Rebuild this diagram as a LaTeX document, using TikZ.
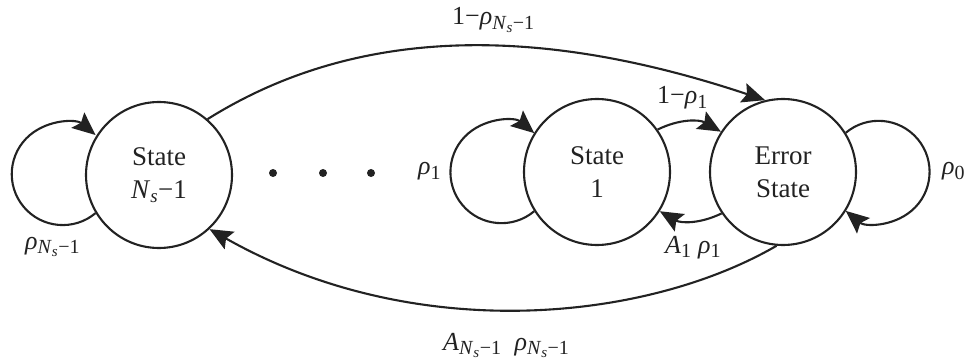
\documentclass[tikz,border=0pt]{standalone}
\usepackage{fontspec}
\setmainfont{Liberation Serif}
\DeclareMathSizes{26}{26}{20}{15}
\DeclareMathSizes{20}{20}{15}{12}
\usetikzlibrary{arrows.meta}
\definecolor{ink}{HTML}{222222}
\newcommand{\myrho}{\textit{ρ}}
\newcommand{\myNs}{\textit{N}\textsubscript{\textit{s}}−1}
\begin{document}
\begin{tikzpicture}[x=1pt,y=1pt,
  font=\fontsize{26}{33}\selectfont,
  statenode/.style={circle, draw=ink, line width=2.1pt, minimum size=146pt, inner sep=0pt, align=center, text=ink, font=\fontsize{27}{33}\selectfont},
  conn/.style={draw=ink, line width=2.1pt, -{Stealth[length=23pt,width=20pt,inset=4pt]}},
  lab/.style={inner sep=0pt, anchor=base west, text=ink},
  dotnode/.style={circle, fill=ink, minimum size=8pt, inner sep=0pt}]
\useasboundingbox (0,0) rectangle (969,362);
\node[statenode] (A) at (159,187) {State\\ \myNs};
\node[statenode] (B) at (597,190) {State\\ 1};
\node[statenode] (C) at (783,190) {Error\\ State};
\node[dotnode] (d1) at (273,189) {};
\node[dotnode] (d2) at (323,189) {};
\node[dotnode] (d3) at (371,189) {};
% self loops
\draw[conn] (A.211) arc[start angle=-50, end angle=-310, radius=51];
\draw[conn] (B.212) arc[start angle=-50, end angle=-310, radius=51];
\draw[conn] (C.32) arc[start angle=130, end angle=-130, radius=51];
% between state 1 and error
\draw[conn] (B.35) to[bend left=28] (C.147);
\draw[conn] (C.214) to[bend left=28] (B.328);
% long arcs
\draw[conn] (A.49) .. controls (361,339) and (546,335) .. (C.104);
\draw[conn] (C.265) .. controls (647,41) and (416,16) .. (A.313);
% labels
\node[lab] (lA) at (25,113) {\myrho\textsubscript{\myNs}};
\node[lab] (lB) at (418,187) {\myrho\textsubscript{1}};
\node[lab] (lC) at (942,187) {\myrho\textsubscript{0}};
\node[lab] (lBC) at (657,258) {1−\myrho\textsubscript{1}};
\node[lab] (lCB) at (665,109) {\textit{A}\textsubscript{1} \myrho\textsubscript{1}};
\node[lab] (lAC) at (452,337) {1−\myrho\textsubscript{\myNs}};
\node[lab] (lCA) at (443,12) {\textit{A}\textsubscript{\myNs}\ \ \myrho\textsubscript{\myNs}};
\end{tikzpicture}
\end{document}
